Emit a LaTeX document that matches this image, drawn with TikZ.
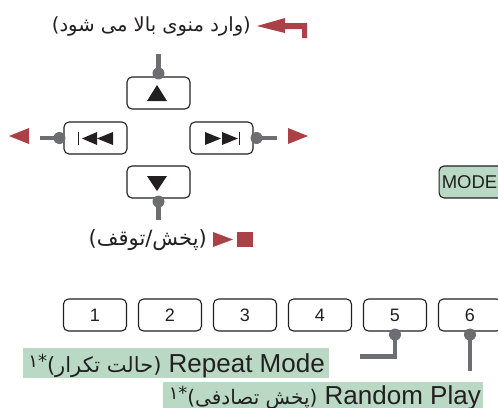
\documentclass[tikz,border=0pt]{standalone}
\usepackage{fontspec}
\setmainfont{Liberation Sans}
\newfontfamily\arabicfont[Script=Arabic]{DejaVu Sans}
\TeXXeTstate=1
\definecolor{wirec}{HTML}{6D6E71}
\definecolor{redc}{HTML}{A94146}
\definecolor{greenc}{HTML}{BAD9C5}
\definecolor{inkc}{HTML}{231F20}
\tikzset{
  btn/.style={draw=inkc,line width=1.1pt,rounded corners=5pt,minimum width=63pt,minimum height=32pt,inner sep=0pt,font=\fontsize{18}{20}\selectfont,text=inkc},
  wire/.style={draw=wirec,line width=4.6pt},
  knob/.style={fill=wirec,circle,minimum size=12pt,inner sep=0pt},
  band/.style={fill=greenc,inner sep=0pt,anchor=north west},
  lab/.style={inner sep=0pt,text=inkc},
  red/.style={fill=redc,draw=none},
  glyph/.style={fill=inkc,draw=none}
}
\newcommand{\fa}[1]{{\arabicfont\beginR #1\endR}}
\begin{document}
\begin{tikzpicture}[x=1pt,y=-1pt]
\useasboundingbox (0,0) rectangle (498,407);
\clip (0,0) rectangle (498,407);
% green bands
\node[band,minimum width=306pt,minimum height=30pt] (bandA) at (23,348) {};
\node[band,minimum width=320pt,minimum height=26pt] (bandB) at (163,382) {};
% buttons
\node[btn] (up) at (158.5,93) {};
\node[btn] (left) at (95.5,138) {};
\node[btn] (right) at (221.5,138) {};
\node[btn] (down) at (158.5,182) {};
\node[btn,fill=greenc,minimum width=70pt,anchor=west] (mode) at (438.5,182) {\hspace*{-9pt}\fontsize{18.5}{20}\selectfont MODE};
\node[btn] (n1) at (95,315) {1};
\node[btn] (n2) at (170,315) {2};
\node[btn] (n3) at (245,315) {3};
\node[btn] (n4) at (320,315) {4};
\node[btn] (n5) at (395,315) {5};
\node[btn] (n6) at (470,315) {6};
% connector ends
\coordinate (upEnd) at (158.5,54);
\coordinate (leftEnd) at (40,138);
\coordinate (rightEnd) at (277,138);
\coordinate (downEnd) at (158.5,220);
\coordinate (fiveBend) at (395,356.5);
\coordinate (fiveEnd) at (360,356.5);
\coordinate (sixEnd) at (470,371);
% connectors
\draw[wire] (up.north) -- (upEnd);
\draw[wire] (left.west) -- (leftEnd);
\draw[wire] (right.east) -- (rightEnd);
\draw[wire] (down.south) -- (downEnd);
\draw[wire] (n5.south) -- (fiveBend) -- (fiveEnd);
\draw[wire] (n6.south) -- (sixEnd);
\node[knob] at ([yshift=3pt]up.north) {};
\node[knob] at ([xshift=-4pt]left.west) {};
\node[knob] at ([xshift=3pt]right.east) {};
\node[knob] at ([yshift=-3pt]down.south) {};
\node[knob] at ([yshift=-3pt]n5.south) {};
\node[knob] at ([yshift=-3pt]n6.south) {};
% button glyphs
\fill[glyph] (157,85) -- (167,101) -- (147,101) -- cycle;
\fill[glyph] (147,176) -- (167,176) -- (157,191) -- cycle;
\fill[glyph] (82,138.5) -- (97,132) -- (97,145) -- cycle;
\fill[glyph] (97,138.5) -- (113,132) -- (113,145) -- cycle;
\fill[glyph] (77.8,132) rectangle (79,145);
\fill[glyph] (205,132) -- (221,138.5) -- (205,145) -- cycle;
\fill[glyph] (222,132) -- (238,138.5) -- (222,145) -- cycle;
\fill[glyph] (238.5,132) rectangle (239.7,145);
% red marks
\fill[red] (257,26) -- (285,18) -- (285,33) -- cycle;
\fill[red] (284,23) -- (307,23) -- (307,38) -- (302,38) -- (302,29) -- (284,29) -- cycle;
\fill[red] (9,136) -- (29,128) -- (29,144) -- cycle;
\fill[red] (288,128) -- (308,136) -- (288,144) -- cycle;
\fill[red] (213,232) -- (233,239.5) -- (213,247) -- cycle;
\fill[red] (237,232) rectangle (253,247);
% texts
\node[lab,anchor=east] (menu) at (251,26) {\fontsize{19.5}{22}\selectfont\fa{(وارد منوی بالا می شود)}};
\node[lab,anchor=east] (play) at (207,240) {\fontsize{21}{24}\selectfont\fa{(پخش/توقف)}};
\node[lab,anchor=base east] (rep) at (325,372) {\fontsize{26}{28}\selectfont\fa{\fontsize{21}{24}\selectfont (حالت تکرار)\raisebox{5pt}{\fontsize{18}{20}\selectfont *۱}}\ Repeat Mode};
\node[lab,anchor=base east] (rnd) at (481,404) {\fontsize{26}{28}\selectfont\fa{\fontsize{20}{24}\selectfont (پخش تصادفی)\raisebox{5pt}{\fontsize{18}{20}\selectfont *۱}}\ Random Play};
\end{tikzpicture}
\end{document}
